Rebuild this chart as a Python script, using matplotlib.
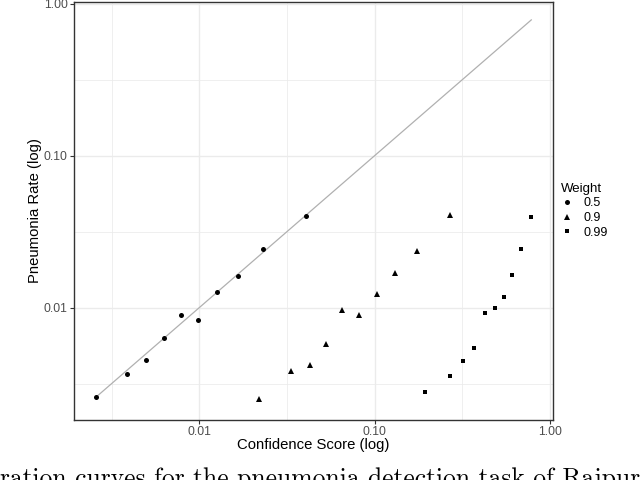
import numpy as np
import matplotlib
matplotlib.use("Agg")
import matplotlib.pyplot as plt
from matplotlib.ticker import FixedLocator, NullFormatter

# calibration points (confidence score vs pneumonia rate)
weights = ["0.5", "0.9", "0.99"]

conf_05 = [0.00257, 0.00388, 0.0050, 0.00628, 0.00782, 0.00987, 0.01267, 0.0167, 0.0232, 0.0405]
rate_05 = [0.00259, 0.00366, 0.00453, 0.00632, 0.0090, 0.0083, 0.01268, 0.0161, 0.0243, 0.0401]

conf_09 = [0.0220, 0.0332, 0.0427, 0.0530, 0.0655, 0.0815, 0.1027, 0.1313, 0.174, 0.269]
rate_09 = [0.00251, 0.00386, 0.00422, 0.00574, 0.0097, 0.0090, 0.0123, 0.0170, 0.0237, 0.0407]

conf_099 = [0.193, 0.268, 0.320, 0.371, 0.425, 0.483, 0.546, 0.609, 0.680, 0.782]
rate_099 = [0.00278, 0.00357, 0.00446, 0.00543, 0.00927, 0.0100, 0.0118, 0.0163, 0.0243, 0.0395]

major_breaks = [0.01, 0.1, 1.0]
major_labels = ["0.01", "0.10", "1.00"]
minor_breaks = [10 ** -2.5, 10 ** -1.5, 10 ** -0.5]

plt.rcParams["font.family"] = ["Liberation Sans", "DejaVu Sans"]

fig = plt.figure(figsize=(6.4, 4.8), dpi=100)
ax = fig.add_axes([74 / 640, 1 - 420 / 480, (553 - 74) / 640, (420 - 2) / 480])

# identity reference line over the range of the data
all_conf = conf_05 + conf_09 + conf_099
ref = [min(all_conf), max(all_conf)]
ax.plot(ref, ref, color="#B0B0B0", lw=0.9, zorder=2)

ax.plot(conf_05, rate_05, "o", color="black", ms=3.6, mew=0, label=weights[0], zorder=3)
ax.plot(conf_09, rate_09, "^", color="black", ms=4.2, mew=0, label=weights[1], zorder=3)
ax.plot(conf_099, rate_099, "s", color="black", ms=3.4, mew=0, label=weights[2], zorder=3)

ax.set_xscale("log")
ax.set_yscale("log")
ax.set_xlim(10 ** -2.714, 10 ** 0.017)
ax.set_ylim(10 ** -2.739, 10 ** 0.011)

for axis in (ax.xaxis, ax.yaxis):
    axis.set_major_locator(FixedLocator(major_breaks))
    axis.set_minor_locator(FixedLocator(minor_breaks))
    axis.set_minor_formatter(NullFormatter())
ax.set_xticklabels(major_labels)
ax.set_yticklabels(major_labels)

ax.grid(which="major", color="#EBEBEB", lw=1.0, zorder=0)
ax.grid(which="minor", color="#EBEBEB", lw=0.55, zorder=0)
ax.set_axisbelow(True)

ax.tick_params(which="major", length=3.0, width=0.8, color="#333333",
               labelsize=8.8, labelcolor="#4D4D4D", pad=1.5)
ax.tick_params(which="minor", length=0)
for s in ax.spines.values():
    s.set_color("#333333")
    s.set_linewidth(1.0)

ax.set_xlabel("Confidence Score (log)", fontsize=10.7, labelpad=0)
ax.set_ylabel("Pneumonia Rate (log)", fontsize=10.7, labelpad=1)

leg = ax.legend(title="Weight", loc="upper left", bbox_to_anchor=(561 / 640, 1 - 183 / 480),
                bbox_transform=fig.transFigure, frameon=False, fontsize=9,
                title_fontsize=9.5, handlelength=0.9, handletextpad=0.9,
                labelspacing=0.2, borderpad=0, borderaxespad=0, alignment="left")

# caption from the page, cut off at the bottom edge
fig.text(0.0, -6 / 480, "ration curves for the pneumonia detection task of Rajpurkar",
         family="cmr10", fontsize=18.4, va="baseline", ha="left")

fig.savefig("out.png", dpi=100)
